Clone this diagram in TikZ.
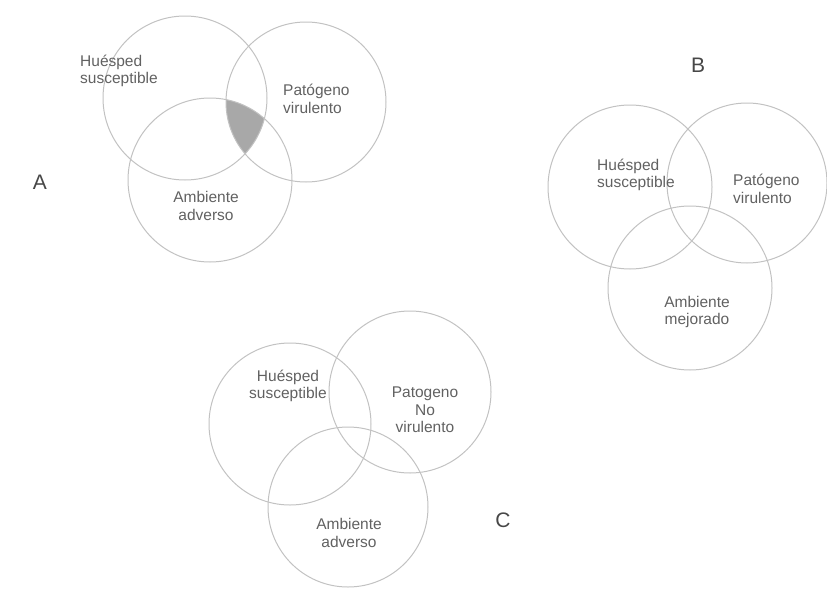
\documentclass[tikz,border=0pt]{standalone}
\usepackage{fontspec}
\setmainfont{Liberation Sans}
\begin{document}
\begin{tikzpicture}[x=1pt,y=-1pt,
  ring/.style={draw=black!24,line width=1pt},
  lbl/.style={text=black!62,font=\fontsize{15.5}{17.5}\selectfont,inner sep=0pt},
  big/.style={text=black!72,font=\fontsize{21}{24}\selectfont,inner sep=0pt}]
\useasboundingbox (0,0) rectangle (827,589);
% ---- A ----
\begin{scope}
  \clip (185,98) circle (82);
  \clip (306,102) circle (80);
  \fill[black!34] (210,180) circle (82);
\end{scope}
\draw[ring] (185,98) circle (82);
\draw[ring] (306,102) circle (80);
\draw[ring] (210,180) circle (82);
\node[lbl,align=left,anchor=west] (aH) at (80,71) {Huésped\\susceptible};
\node[lbl,align=left,anchor=west] (aP) at (283,99) {Patógeno\\virulento};
\node[lbl,align=center] (aA) at (206,206) {Ambiente\\adverso};
\node[big] (la) at (40,182) {A};
% ---- B ----
\draw[ring] (630,187) circle (82);
\draw[ring] (747,183) circle (80);
\draw[ring] (690,288) circle (82);
\node[lbl,align=left,anchor=west] (bH) at (597,175) {Huésped\\susceptible};
\node[lbl,align=left,anchor=west] (bP) at (733,189) {Patógeno\\virulento};
\node[lbl,align=center] (bA) at (697,312) {Ambiente\\mejorado};
\node[big] (lb) at (698,65) {B};
% ---- C ----
\draw[ring] (290,424) circle (81);
\draw[ring] (410,392) circle (81);
\draw[ring] (348,507) circle (80);
\node[lbl,align=center] (cH) at (288,386) {Huésped\\susceptible};
\node[lbl,align=center] (cP) at (425,410) {Patogeno\\No\\virulento};
\node[lbl,align=center] (cA) at (349,533) {Ambiente\\adverso};
\node[big] (lc) at (503,520) {C};
\end{tikzpicture}
\end{document}
